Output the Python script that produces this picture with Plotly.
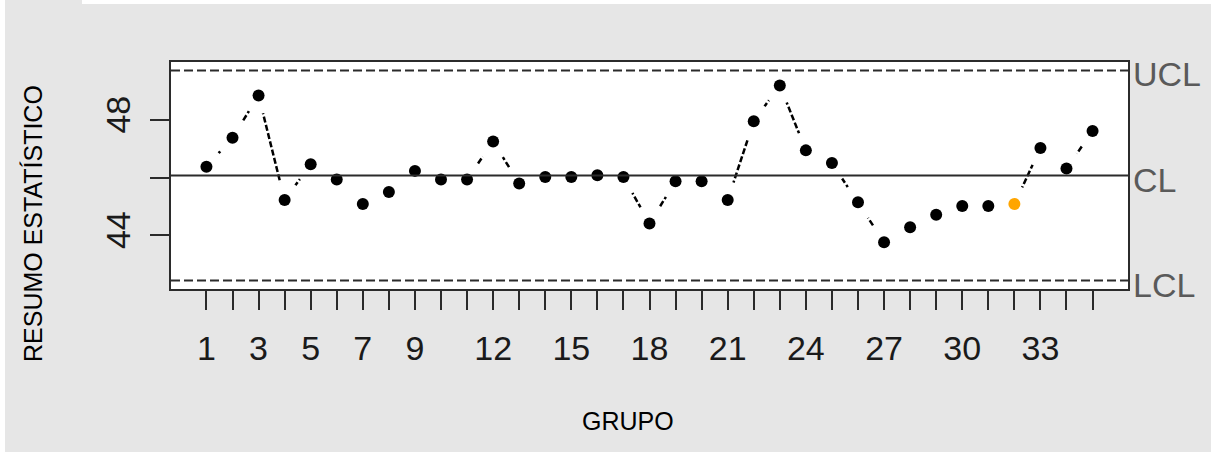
import plotly.graph_objects as go

# ---- data ----
groups = list(range(1, 36))
values = [46.37, 47.38, 48.84, 45.22, 46.46, 45.93, 45.08, 45.50, 46.23, 45.93,
          45.93, 47.25, 45.79, 46.02, 46.02, 46.08, 46.02, 44.41, 45.87, 45.87,
          45.22, 47.95, 49.19, 46.94, 46.50, 45.14, 43.76, 44.28, 44.71, 45.01,
          45.01, 45.08, 47.02, 46.31, 47.61]
highlight_groups = [32]
CL = 46.07
UCL = 49.71
LCL = 42.43
x_label_groups = [1, 3, 5, 7, 9, 12, 15, 18, 21, 24, 27, 30, 33]
y_tick_values = [44, 46, 48]
y_tick_labels = ["44", "", "48"]
limit_names = ["UCL", "CL", "LCL"]
x_title = "GRUPO"
y_title = "RESUMO ESTATÍSTICO"

# ---- layout geometry (pixels) ----
W, H = 1211, 452
L, R, T, B = 171, 83, 62, 163
PW, PH = W - L - R, H - T - B

def px_to_paper_x(px):
    return (px - L) / PW

def px_to_paper_y(py):
    return (H - B - py) / PH

FRAME = "#2b2b2b"
SANS = "Liberation Sans, Arial, sans-serif"

fig = go.Figure()

# dashed connecting line
fig.add_trace(go.Scatter(x=groups, y=values, mode="lines",
                         line=dict(color="black", width=2.5, dash="6px,2.5px"),
                         hoverinfo="skip", showlegend=False))
# white halos emulate R's type="b" gaps around points
fig.add_trace(go.Scatter(x=groups, y=values, mode="markers",
                         marker=dict(size=37, color="white", line=dict(width=0)),
                         hoverinfo="skip", showlegend=False))
colors = ["#FFA500" if g in highlight_groups else "black" for g in groups]
fig.add_trace(go.Scatter(x=groups, y=values, mode="markers",
                         marker=dict(size=12, color=colors, line=dict(width=0)),
                         showlegend=False))

# control limit lines
for name, val in zip(limit_names, [UCL, CL, LCL]):
    fig.add_shape(type="line", xref="paper", x0=0, x1=1, yref="y", y0=val, y1=val,
                  line=dict(color=FRAME, width=2,
                            dash="solid" if name == "CL" else "9px,4px"),
                  layer="above")
    fig.add_annotation(xref="paper", x=1, yref="y", y=val, text=name,
                       showarrow=False, xanchor="left", yanchor="middle",
                       xshift=3, yshift=-4,
                       font=dict(family=SANS, size=34, color="#5a5a5a"))

ticktext = [str(g) if g in x_label_groups else "" for g in groups]

fig.update_xaxes(range=[-0.36, 36.36], tickmode="array", tickvals=groups, ticktext=ticktext,
                 ticks="outside", ticklen=19, tickwidth=2, tickcolor=FRAME,
                 showline=True, mirror=True, linecolor=FRAME, linewidth=2,
                 showgrid=False, zeroline=False, ticklabelstandoff=9,
                 tickfont=dict(family=SANS, size=34, color="#1a1a1a"))
fig.update_yaxes(range=[42.14, 50.0], tickmode="array", tickvals=y_tick_values,
                 ticktext=y_tick_labels, tickangle=-90,
                 ticks="outside", ticklen=19, tickwidth=2, tickcolor=FRAME,
                 showline=True, mirror=True, linecolor=FRAME, linewidth=2,
                 showgrid=False, zeroline=False, ticklabelstandoff=6,
                 tickfont=dict(family=SANS, size=34, color="#1a1a1a"))

# axis titles
fig.add_annotation(xref="paper", yref="paper", x=px_to_paper_x(628), y=px_to_paper_y(421),
                   text=x_title, showarrow=False, xanchor="center", yanchor="middle",
                   font=dict(family=SANS, size=25, color="black"))
fig.add_annotation(xref="paper", yref="paper", x=px_to_paper_x(33), y=px_to_paper_y(224),
                   text=y_title, showarrow=False, textangle=-90,
                   xanchor="center", yanchor="middle",
                   font=dict(family=SANS, size=25, color="black"))

# light decorative strips of the original screenshot
fig.add_shape(type="rect", xref="paper", yref="paper", layer="below",
              x0=px_to_paper_x(82), x1=px_to_paper_x(W), y0=px_to_paper_y(4), y1=px_to_paper_y(0),
              fillcolor="white", line=dict(width=0))
fig.add_shape(type="rect", xref="paper", yref="paper", layer="below",
              x0=px_to_paper_x(0), x1=px_to_paper_x(5), y0=px_to_paper_y(H), y1=px_to_paper_y(0),
              fillcolor="white", line=dict(width=0))

fig.update_layout(width=W, height=H, margin=dict(l=L, r=R, t=T, b=B),
                  paper_bgcolor="#e6e6e6", plot_bgcolor="white",
                  showlegend=False)

fig.write_html("out.html")
